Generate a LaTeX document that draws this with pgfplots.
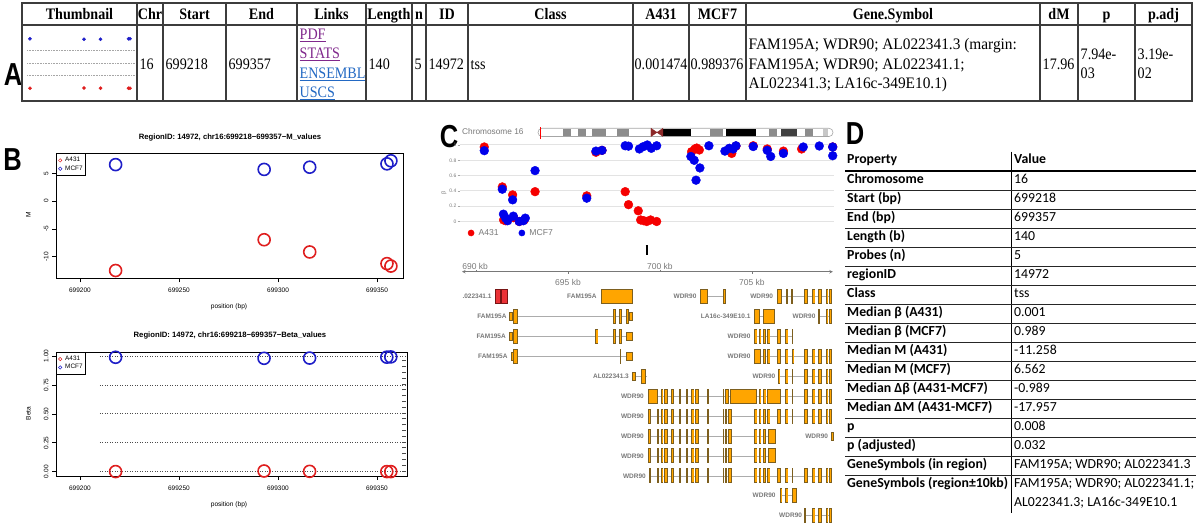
\documentclass[border=0pt]{standalone}
\usepackage{pgfplots}
\pgfplotsset{compat=1.18}
\usepackage{pgfplotstable}
\usepackage{fontspec}
\setmainfont{Liberation Serif}
\newfontfamily\tabfont[FakeStretch=0.88]{Liberation Serif}
\newfontfamily\genefont[FakeStretch=0.96]{Liberation Serif}
\newfontfamily\arial{Liberation Sans}
\newfontfamily\calibri{Carlito}
\newcommand{\fs}[1]{\fontsize{#1}{#1}\selectfont}

\definecolor{rred}{RGB}{223,30,30}
\definecolor{rblue}{RGB}{30,30,200}
\definecolor{gred}{RGB}{245,0,0}
\definecolor{gblue}{RGB}{0,0,235}
\definecolor{exfill}{RGB}{255,165,0}
\definecolor{exline}{RGB}{125,95,30}
\definecolor{exred}{RGB}{235,50,55}
\definecolor{exredline}{RGB}{120,20,20}
\definecolor{lnkp}{RGB}{128,40,140}
\definecolor{lnkb}{RGB}{35,105,195}
\definecolor{gtxt}{RGB}{120,120,120}
\definecolor{tline}{RGB}{60,60,60}
\definecolor{cenred}{RGB}{140,40,40}

% ---------- region probes (panel A thumbnail, panel B)
\pgfplotstableread{
pos    MA431   MMCF7  BA431   BMCF7
699218 -12.50  6.562  0.0010  0.989
699293 -6.96   5.70   0.0060  0.980
699316 -9.16   6.10   0.0030  0.982
699355 -11.258 6.70   0.0010  0.990
699357 -11.70  7.25   0.0008  0.992
}\regtab

% ---------- panel C data track (kb, beta)
\pgfplotstableread{
kb     beta
690.45 0.974
691.43 0.452
691.50 0.020
691.62 0.010
691.99 0.348
692.05 0.050
692.35 0.000
692.62 0.020
693.21 0.390
696.02 0.335
696.52 0.905
696.85 0.930
698.11 0.390
698.29 0.220
698.82 0.140
698.95 0.020
699.12 0.010
699.28 0.000
699.49 0.020
699.82 0.000
701.72 0.913
701.90 0.948
702.00 0.960
702.14 0.935
703.77 0.950
703.90 0.890
704.13 0.985
705.07 0.990
705.83 0.948
706.71 0.920
707.70 0.948
709.39 0.975
}\atab
\pgfplotstableread{
kb     beta
690.45 0.926
691.43 0.422
691.49 0.096
691.61 0.044
691.72 0.010
691.99 0.283
692.03 0.070
692.35 0.000
692.57 0.010
692.68 0.044
693.21 0.665
696.02 0.305
696.52 0.920
696.85 0.930
698.11 0.990
698.29 0.985
698.88 0.948
699.09 0.978
699.31 1.000
699.53 0.957
699.82 0.990
701.68 0.850
701.86 0.800
701.96 0.540
702.17 0.700
702.66 0.990
703.53 0.920
703.77 0.957
703.98 0.948
704.13 0.990
705.07 0.980
705.83 0.930
706.02 0.850
706.71 0.890
707.79 0.974
708.66 0.987
709.39 0.974
709.39 0.860
}\btab

% ---------- chromosome 16 ideogram bands (Mb)
\pgfplotstableread{
a b
7.65 10.10
12.25 14.70
16.53 20.82
24.19 27.86
52.66 56.64
70.73 73.18
81.75 84.20
}\bandgray
\pgfplotstableread{
a b
38.27 46.85
57.56 66.75
}\bandblack
\pgfplotstableread{
a b
74.40 79.30
}\banddark
\pgfplotstableread{
a b
87.26 88.79
}\bandlight

% ---------- gene models (kb, row)
\pgfplotstableread{
a b r
702.19 703.59 1
706.38 709.33 1
691.81 698.55 2
705.11 706.27 2
708.60 709.33 2
691.81 698.55 3
705.11 707.22 3
691.90 698.55 4
705.11 709.33 4
698.49 699.28 5
706.43 709.33 5
699.36 709.33 6
699.36 709.33 7
699.36 706.30 8
699.36 706.30 9
699.44 709.33 10
706.52 707.48 11
707.86 709.33 12
}\introns

\pgfplotstableread{
a b r
696.79 698.52 1
702.19 702.63 1
703.41 703.59 1
706.38 706.65 1
706.85 706.96 1
707.16 707.23 1
707.84 708.03 1
708.28 708.46 1
708.60 708.79 1
709.01 709.17 1
709.19 709.33 1
692.03 692.28 2
697.43 697.59 2
697.77 697.93 2
698.15 698.33 2
705.11 705.47 2
705.61 706.27 2
708.60 708.66 2
709.01 709.17 2
709.19 709.33 2
692.03 692.28 3
696.48 696.67 3
697.43 697.59 3
697.77 697.93 3
705.11 705.29 3
705.38 705.51 3
705.61 705.76 3
705.85 705.98 3
706.38 706.56 3
706.81 706.96 3
707.16 707.22 3
692.03 692.28 4
697.83 697.89 4
705.11 705.52 4
705.61 705.76 4
705.85 705.98 4
706.38 706.56 4
706.81 706.96 4
707.16 707.30 4
707.84 708.03 4
708.28 708.46 4
708.60 708.79 4
709.01 709.17 4
709.19 709.33 4
698.97 699.28 5
706.43 706.56 5
706.81 706.96 5
707.16 707.25 5
707.84 708.03 5
708.28 708.46 5
708.60 708.79 5
709.01 709.17 5
709.19 709.33 5
699.36 699.93 6
700.04 700.18 6
700.22 700.43 6
700.58 700.76 6
701.02 701.13 6
701.45 701.56 6
701.70 701.88 6
701.93 702.10 6
702.54 702.65 6
703.41 703.49 6
703.53 703.77 6
703.84 705.26 6
705.38 705.51 6
705.61 705.79 6
705.85 706.61 6
706.81 706.96 6
707.16 707.25 6
707.84 708.03 6
708.28 708.46 6
708.60 708.79 6
709.01 709.17 6
709.19 709.33 6
699.36 699.49 7
699.82 699.93 7
700.04 700.18 7
700.22 700.43 7
700.58 700.76 7
701.02 701.13 7
701.45 701.56 7
701.70 701.88 7
701.93 702.10 7
702.54 702.65 7
703.41 703.49 7
703.53 703.64 7
703.71 703.90 7
705.11 705.29 7
705.38 705.51 7
705.61 705.76 7
705.85 705.98 7
706.38 706.56 7
706.81 706.96 7
707.16 707.25 7
707.84 708.03 7
708.28 708.46 7
708.60 708.79 7
709.01 709.17 7
709.19 709.33 7
699.36 699.49 8
699.82 699.93 8
700.04 700.18 8
700.22 700.43 8
700.58 700.76 8
701.02 701.13 8
701.45 701.56 8
701.70 701.88 8
701.93 702.10 8
702.54 702.65 8
703.41 703.49 8
703.53 703.64 8
703.71 703.90 8
705.11 705.29 8
705.38 705.51 8
705.61 705.76 8
705.85 706.30 8
699.36 699.49 9
699.82 699.93 9
700.04 700.18 9
700.22 700.43 9
700.58 700.76 9
701.02 701.13 9
701.45 701.56 9
701.70 701.88 9
701.93 702.10 9
702.54 702.65 9
703.41 703.49 9
703.53 703.64 9
703.71 703.90 9
705.11 705.29 9
705.38 705.51 9
705.61 705.76 9
705.85 706.30 9
699.44 699.48 10
699.82 699.93 10
700.04 700.18 10
700.22 700.43 10
700.58 700.76 10
701.02 701.13 10
701.45 701.56 10
701.70 701.88 10
701.93 702.10 10
702.54 702.65 10
703.41 703.49 10
703.53 703.64 10
703.71 703.90 10
705.11 705.29 10
705.38 705.51 10
705.61 705.76 10
705.85 705.98 10
706.38 706.56 10
706.81 706.96 10
707.16 707.25 10
707.84 708.03 10
708.28 708.46 10
708.60 708.79 10
709.01 709.17 10
709.19 709.33 10
706.52 706.65 11
706.81 706.96 11
707.19 707.48 11
707.86 707.91 12
708.28 708.46 12
708.60 708.79 12
709.01 709.17 12
709.19 709.33 12
}\exfull

\pgfplotstableread{
a b r
691.81 691.99 2
698.33 698.55 2
691.81 691.99 3
698.15 698.55 3
691.90 692.03 4
698.15 698.55 4
698.49 698.68 5
709.28 709.46 8
}\exhalf

\pgfplotstableread{
a b r
691.03 691.375 1
691.375 691.72 1
}\exredt

\pgfplotsset{
 rplot/.style={anchor=south west, scale only axis,
  axis line style={line width=0.8pt, black},
  tick align=outside, xtick pos=left, ytick pos=left, major tick length=4pt,
  tick style={black, line width=0.6pt},
  scaled x ticks=false, scaled y ticks=false,
  xtick={699200,699250,699300,699350},
  xticklabels={699200,699250,699300,699350},
  ticklabel style={font=\arial\fs{6.5}},
  xticklabel style={yshift=-2pt},
  yticklabel style={rotate=90, anchor=south, yshift=0pt},
  legend style={at={(0,1)}, anchor=north west, draw=black, line width=0.6pt,
    font=\arial\fs{6.4}, inner xsep=2.2pt, inner ysep=3pt, row sep=0.8pt,
    nodes={inner sep=0.8pt},
    /tikz/every odd column/.append style={column sep=2.5pt}},
  legend cell align=left,
  legend image code/.code={\draw[##1, mark size=1.7pt, line width=0.5pt] plot coordinates {(0.1cm,0cm)};}
 },
 exonlayer/.style={draw=none, forget plot, error bars/.cd, x dir=both, x explicit, error mark=none}
}

\begin{document}
\begin{tikzpicture}[x=1pt,y=1pt]

% ================= panel labels
\node[font=\arial\bfseries\fs{30}, xscale=0.85, yscale=1.06] at (13,450.5) {A};
\node[font=\arial\bfseries\fs{30}, xscale=0.85, yscale=1.06] at (12.5,365) {B};
\node[font=\arial\bfseries\fs{30}, xscale=0.85, yscale=1.06] at (449,388) {C};
\node[font=\arial\bfseries\fs{30}, xscale=0.85, yscale=1.06] at (855,391) {D};

% ================= panel A: table
\draw[tline, line width=2.2pt] (22,522) rectangle (1192,424);
\draw[tline, line width=1.6pt] (22,500) -- (1192,500);
\foreach \x in {137,163,226,297,366,412,426,468,633,689,746,1040,1078,1135}
  \draw[tline, line width=1.6pt] (\x,522) -- (\x,424);
\foreach \x/\t in {79.5/Thumbnail,150/Chr,194.5/Start,261.5/End,331.5/Links,389/Length,419/n,447/ID,550.5/Class,661/A431,717.5/MCF7,893/Gene.Symbol,1059/dM,1106.5/p,1163.5/p.adj}
  \node[font=\tabfont\bfseries\fs{16}, anchor=base, inner sep=0] at (\x,505.6) {\t};
\begin{scope}[every node/.style={font=\tabfont\fs{16}, anchor=base west, inner sep=0}]
\node at (139.5,455.5) {16};
\node at (165.5,455.5) {699218};
\node at (228.5,455.5) {699357};
\node[text=lnkp] at (299.5,485.5) {\underline{PDF}};
\node[text=lnkp] at (299.5,466.1) {\underline{STATS}};
\node[text=lnkb] at (299.5,446.7) {\underline{ENSEMBL}};
\node[text=lnkb] at (299.5,427.3) {\underline{USCS}};
\node at (368.5,455.5) {140};
\node at (414.5,455.5) {5};
\node at (428.5,455.5) {14972};
\node at (470.5,455.5) {tss};
\node at (634.5,455.5) {0.001474};
\node at (690.5,455.5) {0.989376};
\node[font=\genefont\fs{16}] at (748.5,475) {FAM195A; WDR90; AL022341.3 (margin:};
\node[font=\genefont\fs{16}] at (748.5,455.5) {FAM195A; WDR90; AL022341.1;};
\node[font=\genefont\fs{16}] at (748.5,436) {AL022341.3; LA16c-349E10.1)};
\node at (1042.5,455.5) {17.96};
\node at (1080.5,465.5) {7.94e-};
\node at (1080.5,446) {03};
\node at (1137.5,465.5) {3.19e-};
\node at (1137.5,446) {02};
\end{scope}

% thumbnail (miniature of the Beta plot)
\begin{axis}[at={(24pt,432pt)}, anchor=south west, scale only axis, width=112pt, height=60pt,
  xmin=699209.7, xmax=699365.3, ymin=-0.094, ymax=1.106, hide axis, clip=false]
\addplot[gray!70, dash pattern=on 0.8pt off 0.8pt, line width=0.6pt] coordinates {(699214,0.25) (699364,0.25)};
\addplot[gray!70, dash pattern=on 0.8pt off 0.8pt, line width=0.6pt] coordinates {(699214,0.5) (699364,0.5)};
\addplot[gray!70, dash pattern=on 0.8pt off 0.8pt, line width=0.6pt] coordinates {(699214,0.75) (699364,0.75)};
\addplot[only marks, mark=*, mark size=1.6pt, rblue] table[x=pos, y=BMCF7] \regtab;
\addplot[only marks, mark=*, mark size=1.6pt, rred] table[x=pos, y=BA431] \regtab;
\end{axis}

% ================= panel B: M values
\node[font=\arial\bfseries\fs{7.7}] at (230,387.5) {RegionID: 14972, chr16:699218−699357−M\_values};
\begin{axis}[rplot, at={(56pt,246.7pt)}, width=347pt, height=125pt,
  xmin=699187.9, xmax=699363.1, ymin=-13.9, ymax=8.6,
  ytick={-10,-5,0,5}, yticklabels={-10,-5,0,5}]
\addplot[rred, only marks, mark=o, mark size=6pt, line width=1.6pt] table[x=pos, y=MA431] \regtab;
\addplot[rblue, only marks, mark=o, mark size=6pt, line width=1.6pt] table[x=pos, y=MMCF7] \regtab;
\legend{A431,MCF7}
\end{axis}
\node[font=\arial\fs{6.6}] at (229,218.3) {position (bp)};
\node[font=\arial\fs{6.6}, rotate=90] at (28.3,310) {M};

% ================= panel B: Beta values
\node[font=\arial\bfseries\fs{7.7}] at (230,189.3) {RegionID: 14972, chr16:699218−699357−Beta\_values};
\begin{axis}[rplot, at={(56pt,49pt)}, width=351pt, height=124pt,
  xmin=699187.9, xmax=699365.2, ymin=-0.0372, ymax=1.0346,
  ytick={0,0.25,0.5,0.75,1}, yticklabels={0.00,0.25,0.50,0.75,1.00}]
\addplot[gray!60!black, dash pattern=on 1pt off 1.5pt, line width=0.8pt, forget plot] coordinates {(699210,0) (699365.2,0)};
\addplot[gray!60!black, dash pattern=on 1pt off 1.5pt, line width=0.8pt, forget plot] coordinates {(699210,0.25) (699365.2,0.25)};
\addplot[gray!60!black, dash pattern=on 1pt off 1.5pt, line width=0.8pt, forget plot] coordinates {(699210,0.5) (699365.2,0.5)};
\addplot[gray!60!black, dash pattern=on 1pt off 1.5pt, line width=0.8pt, forget plot] coordinates {(699210,0.75) (699365.2,0.75)};
\addplot[gray!60!black, dash pattern=on 1pt off 1.5pt, line width=0.8pt, forget plot] coordinates {(699210,1) (699365.2,1)};
\addplot[gray!60!black, dash pattern=on 1pt off 4.8pt, line width=4pt, forget plot] coordinates {(699363.8,0) (699363.8,1)};
\addplot[rred, only marks, mark=o, mark size=6pt, line width=1.6pt] table[x=pos, y=BA431] \regtab;
\addplot[rblue, only marks, mark=o, mark size=6pt, line width=1.6pt] table[x=pos, y=BMCF7] \regtab;
\legend{A431,MCF7}
\end{axis}
\node[font=\arial\fs{6.6}] at (229,20.7) {position (bp)};
\node[font=\arial\fs{6.6}, rotate=90] at (28.3,111.7) {Beta};

% ================= panel C: ideogram
\node[font=\arial\fs{8.3}, text=gtxt, anchor=mid west, inner sep=0] at (462,393) {Chromosome 16};
\begin{axis}[at={(538pt,388.5pt)}, anchor=south west, scale only axis, width=295pt, height=8.2pt,
  xmin=0, xmax=90.35, ymin=0, ymax=1, hide axis, clip=false]
\draw[gray!70, line width=0.6pt, rounded corners=4pt, fill=white] (axis cs:0,0) rectangle (axis cs:90.35,1);
\addplot[exonlayer, error bar style={line width=7.6pt, draw=gray!90}] table[x expr=(\thisrow{a}+\thisrow{b})/2, y expr=0.5, x error expr=(\thisrow{b}-\thisrow{a})/2] \bandgray;
\addplot[exonlayer, error bar style={line width=7.6pt, draw=black}] table[x expr=(\thisrow{a}+\thisrow{b})/2, y expr=0.5, x error expr=(\thisrow{b}-\thisrow{a})/2] \bandblack;
\addplot[exonlayer, error bar style={line width=7.6pt, draw=black!75}] table[x expr=(\thisrow{a}+\thisrow{b})/2, y expr=0.5, x error expr=(\thisrow{b}-\thisrow{a})/2] \banddark;
\addplot[exonlayer, error bar style={line width=7.6pt, draw=black!22}] table[x expr=(\thisrow{a}+\thisrow{b})/2, y expr=0.5, x error expr=(\thisrow{b}-\thisrow{a})/2] \bandlight;
\addplot[fill=cenred, draw=cenred] coordinates {(34.60,0) (34.60,1) (36.44,0.5) (34.60,0)};
\addplot[fill=cenred, draw=cenred] coordinates {(38.27,0) (38.27,1) (36.44,0.5) (38.27,0)};
\addplot[red, line width=0.8pt] coordinates {(0.699,-0.25) (0.699,1.2)};
\end{axis}

% ================= panel C: data track
\node[font=\arial\fs{5.5}, text=gtxt, rotate=90] at (444,332) {β};
\begin{axis}[at={(460pt,303.5pt)}, anchor=south west, scale only axis, width=374pt, height=76.5pt,
  xmin=689.13, xmax=709.46, ymin=0, ymax=1, clip=false,
  axis line style={draw=none}, xtick=\empty,
  ytick={0,0.2,0.4,0.6,0.8,1}, yticklabels={0,0.2,0.4,0.6,0.8,1},
  ytick pos=left, tick align=outside, major tick length=2.5pt,
  ymajorgrids, major grid style={gray!22, line width=1pt},
  y tick style={gray!70, line width=0.5pt},
  yticklabel style={font=\arial\fs{5}, text=gtxt, inner sep=1pt},
  legend style={draw=none, fill=none, at={(0.0203,-0.150)}, anchor=west, legend columns=2,
    font=\arial\fs{8.6}, text=gtxt, inner xsep=0pt, inner ysep=0pt,
    nodes={inner sep=1pt},
    /tikz/every odd column/.append style={column sep=3.2pt},
    /tikz/every even column/.append style={column sep=18.9pt}},
  legend image code/.code={\fill[#1] (0.1cm,0pt) circle (3.1pt);}]
\addplot[only marks, mark=*, mark size=4.4pt, gred] table[x=kb, y=beta] \atab;
\addplot[only marks, mark=*, mark size=4.4pt, gblue] table[x=kb, y=beta] \btab;
\legend{A431,MCF7}
\end{axis}

% ================= panel C: genome axis + gene models
\begin{axis}[at={(460pt,-0.55pt)}, anchor=south west, scale only axis, width=374pt, height=328.35pt,
  xmin=689.13, xmax=709.46, ymin=-4, ymax=12.5, y dir=reverse, hide axis, clip=false]
% region marker
\addplot[black, line width=10pt] coordinates {(699.218,-1.35) (699.357,-1.35)};
% genome axis
\addplot[gtxt, line width=0.6pt, <->, >=stealth] coordinates {(689.24,-0.256) (709.40,-0.256)};
\addplot[gtxt, line width=0.6pt, unbounded coords=jump] coordinates {(690,-0.256) (690,-0.36) (690,nan) (700,-0.256) (700,-0.36) (700,nan) (695,-0.256) (695,-0.15) (695,nan) (705,-0.256) (705,-0.15)};
\node[font=\arial\fs{8.5}, text=gtxt] at (axis cs:689.95,-0.543) {690 kb};
\node[font=\arial\fs{8.5}, text=gtxt] at (axis cs:700,-0.543) {700 kb};
\node[font=\arial\fs{8.5}, text=gtxt] at (axis cs:695,0.261) {695 kb};
\node[font=\arial\fs{8.5}, text=gtxt] at (axis cs:705,0.261) {705 kb};
% introns
\addplot[exonlayer, error bar style={line width=0.6pt, draw=gray!65}] table[x expr=(\thisrow{a}+\thisrow{b})/2, y=r, x error expr=(\thisrow{b}-\thisrow{a})/2] \introns;
% exons (outline, then fill)
\addplot[exonlayer, error bar style={line width=15pt, draw=exline}] table[x expr=(\thisrow{a}+\thisrow{b})/2, y=r, x error expr=(\thisrow{b}-\thisrow{a})/2] \exfull;
\addplot[exonlayer, error bar style={line width=13pt, draw=exfill}] table[x expr=(\thisrow{a}+\thisrow{b})/2, y=r, x error expr={max((\thisrow{b}-\thisrow{a})/2-0.055,0)}] \exfull;
\addplot[exonlayer, error bar style={line width=9pt, draw=exline}] table[x expr=(\thisrow{a}+\thisrow{b})/2, y=r, x error expr=(\thisrow{b}-\thisrow{a})/2] \exhalf;
\addplot[exonlayer, error bar style={line width=7pt, draw=exfill}] table[x expr=(\thisrow{a}+\thisrow{b})/2, y=r, x error expr={max((\thisrow{b}-\thisrow{a})/2-0.055,0)}] \exhalf;
\addplot[exonlayer, error bar style={line width=15pt, draw=exredline}] table[x expr=(\thisrow{a}+\thisrow{b})/2, y=r, x error expr=(\thisrow{b}-\thisrow{a})/2] \exredt;
\addplot[exonlayer, error bar style={line width=13pt, draw=exred}] table[x expr=(\thisrow{a}+\thisrow{b})/2, y=r, x error expr={max((\thisrow{b}-\thisrow{a})/2-0.055,0)}] \exredt;
% gene labels
\begin{scope}[every node/.style={font=\arial\bfseries\fs{6.5}, text=gtxt, anchor=east, inner sep=0}]
\node at (axis cs:690.85,1) {.022341.1};
\node at (axis cs:696.56,1) {FAM195A};
\node at (axis cs:701.99,1) {WDR90};
\node at (axis cs:706.16,1) {WDR90};
\node at (axis cs:691.67,2) {FAM195A};
\node at (axis cs:704.93,2) {LA16c-349E10.1};
\node at (axis cs:708.46,2) {WDR90};
\node at (axis cs:691.63,3) {FAM195A};
\node at (axis cs:704.93,3) {WDR90};
\node at (axis cs:691.72,4) {FAM195A};
\node at (axis cs:704.93,4) {WDR90};
\node at (axis cs:698.32,5) {AL022341.3};
\node at (axis cs:706.28,5) {WDR90};
\node at (axis cs:699.13,6) {WDR90};
\node at (axis cs:699.13,7) {WDR90};
\node at (axis cs:699.13,8) {WDR90};
\node at (axis cs:709.15,8) {WDR90};
\node at (axis cs:699.13,9) {WDR90};
\node at (axis cs:699.24,10) {WDR90};
\node at (axis cs:706.29,11) {WDR90};
\node at (axis cs:707.73,12) {WDR90};
\end{scope}
\end{axis}

% ================= panel D: table
\draw[black, line width=0.7pt] (1011.5,373.3) -- (1011.5,12);
\draw[black, line width=1.6pt] (845,354) -- (1196,354);
\foreach \i in {0,...,15}
  \draw[black!85, line width=0.6pt] (845,334.5-19*\i) -- (1196,334.5-19*\i);
\node[font=\calibri\bfseries\fs{13.8}, anchor=mid west, inner sep=0] at (847,364) {Property};
\node[font=\calibri\bfseries\fs{13.8}, anchor=mid west, inner sep=0] at (1014,364) {Value};
\foreach \p/\v [count=\i from 0] in {
  {Chromosome}/{16},
  {Start (bp)}/{699218},
  {End (bp)}/{699357},
  {Length (b)}/{140},
  {Probes (n)}/{5},
  {regionID}/{14972},
  {Class}/{tss},
  {Median β (A431)}/{0.001},
  {Median β (MCF7)}/{0.989},
  {Median M (A431)}/{-11.258},
  {Median M (MCF7)}/{6.562},
  {Median Δβ (A431-MCF7)}/{-0.989},
  {Median ΔM (A431-MCF7)}/{-17.957},
  {p}/{0.008},
  {p (adjusted)}/{0.032},
  {GeneSymbols (in region)}/{FAM195A; WDR90; AL022341.3},
  {GeneSymbols (region±10kb)}/{FAM195A; WDR90; AL022341.1;}}
{
  \node[font=\calibri\bfseries\fs{13.8}, anchor=mid west, inner sep=0] at (847,344-19*\i) {\p};
  \node[font=\calibri\fs{13.8}, anchor=mid west, inner sep=0] at (1014,344-19*\i) {\v};
}
\node[font=\calibri\fs{13.8}, anchor=mid west, inner sep=0] at (1014,21) {AL022341.3; LA16c-349E10.1};

\pgfresetboundingbox
\path[use as bounding box] (0,0) rectangle (1200,525);
\end{tikzpicture}
\end{document}
